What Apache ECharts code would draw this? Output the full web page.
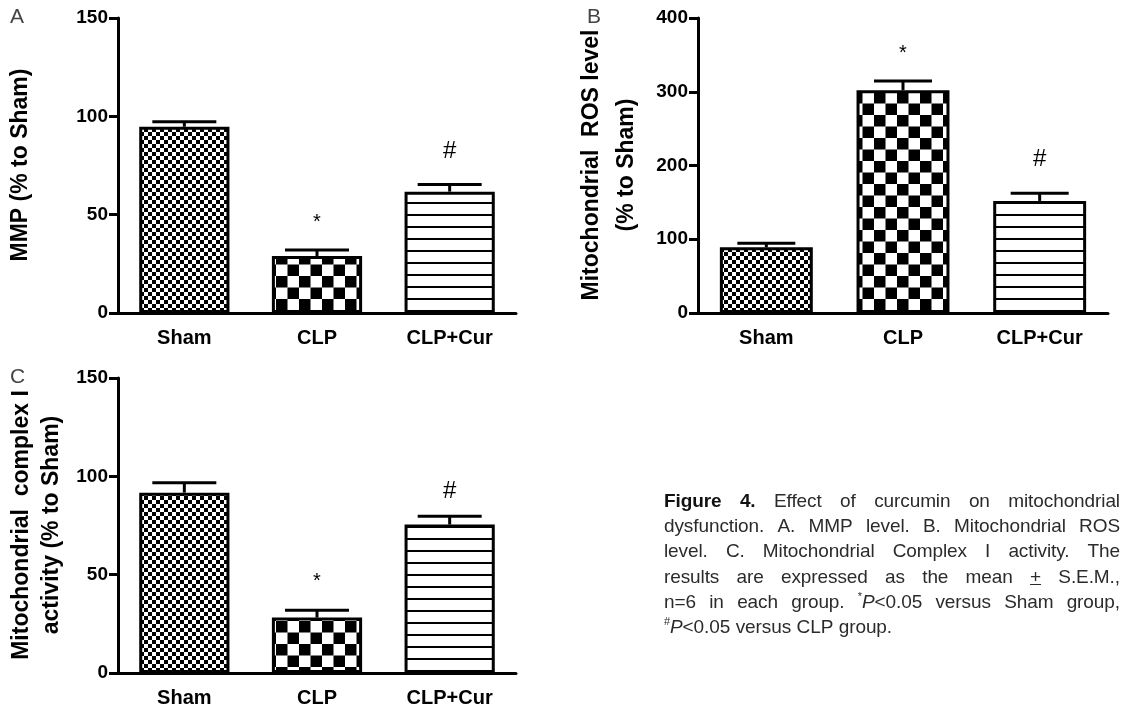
<!DOCTYPE html>
<html>
<head>
<meta charset="utf-8">
<script src="https://cdn.jsdelivr.net/npm/echarts@6/dist/echarts.min.js"></script>
<style>
html,body{margin:0;padding:0;background:#fff;}
#chart{position:absolute;left:0;top:0;width:1147px;height:710px;}
#caption{position:absolute;left:664px;top:488px;width:456px;font-family:'Liberation Sans',Arial,sans-serif;font-size:19px;letter-spacing:-0.1px;line-height:25.2px;color:#2b2b2b;}
#caption .l{display:flex;justify-content:space-between;white-space:nowrap;}
#caption .last{white-space:nowrap;}
#caption .last span{margin-right:5.5px;}
#caption b{color:#111;}
#caption sup{font-size:11px;line-height:0;vertical-align:8px;}
</style>
</head>
<body>
<div id="chart"></div>
<div id="caption"></div>
<script>
// ---- data ----
const categories = ['Sham', 'CLP', 'CLP+Cur'];
const marks = ['', '*', '#'];

const mmpMean = [94.7, 29.0, 61.7];
const mmpSem  = [2.6, 3.0, 3.7];

const rosMean = [89, 302, 152];
const rosSem  = [5.5, 12.6, 10.4];

const cx1Mean = [91.7, 28.2, 75.5];
const cx1Sem  = [5.1, 3.7, 4.2];

const ticksA = [0, 50, 100, 150];
const ticksB = [0, 100, 200, 300, 400];
const ticksC = [0, 50, 100, 150];

const captionLines = [
  '<b>Figure</b> <b>4.</b> Effect of curcumin on mitochondrial',
  'dysfunction. A. MMP level. B. Mitochondrial ROS',
  'level. C. Mitochondrial Complex I activity. The',
  'results are expressed as the mean <u>+</u> S.E.M.,',
  'n=6 in each group. <sup>*</sup><i>P</i>&lt;0.05 versus Sham group,',
  '<sup>#</sup><i>P</i>&lt;0.05 versus CLP group.'
];

// ---- caption (justified lines) ----
(function () {
  const cap = document.getElementById('caption');
  captionLines.forEach((ln, idx) => {
    const d = document.createElement('div');
    d.className = idx === captionLines.length - 1 ? 'last' : 'l';
    d.innerHTML = ln.split(' ').map(w => '<span>' + w + '</span>').join('');
    cap.appendChild(d);
  });
})();

// ---- patterns ----
function pattern(kind) {
  const c = document.createElement('canvas');
  const ctx = c.getContext('2d');
  if (kind === 'fine') {
    const s = 4; c.width = c.height = 2 * s;
    ctx.fillStyle = '#fff'; ctx.fillRect(0, 0, 2 * s, 2 * s);
    ctx.fillStyle = '#000'; ctx.fillRect(0, 0, s, s); ctx.fillRect(s, s, s, s);
  } else if (kind === 'coarse') {
    c.width = c.height = 23;
    ctx.fillStyle = '#fff'; ctx.fillRect(0, 0, 23, 23);
    ctx.fillStyle = '#000'; ctx.fillRect(0, 0, 11.5, 11.5); ctx.fillRect(11.5, 11.5, 11.5, 11.5);
  } else {
    c.width = 8; c.height = 12;
    ctx.fillStyle = '#fff'; ctx.fillRect(0, 0, 8, 12);
    ctx.fillStyle = '#000'; ctx.fillRect(0, 10, 8, 2);
  }
  return { image: c, repeat: 'repeat' };
}
const fills = [pattern('fine'), pattern('coarse'), pattern('lines')];

const FONT = "'Liberation Sans', Arial, sans-serif";
const grids = [
  { left: 118, top: 18, width: 398, height: 295 },
  { left: 698, top: 18, width: 410, height: 295 },
  { left: 118, top: 378, width: 398, height: 295 }
];
const panels = [
  { mean: mmpMean, sem: mmpSem, ticks: ticksA, cap: 32, starGap: 28, hashGap: 33 },
  { mean: rosMean, sem: rosSem, ticks: ticksB, cap: 29, starGap: 27, hashGap: 34 },
  { mean: cx1Mean, sem: cx1Sem, ticks: ticksC, cap: 32, starGap: 29, hashGap: 25 }
];

const axisLineStyle = { color: '#000', width: 3 };
const xAxes = grids.map((g, i) => ({
  gridIndex: i, type: 'category', data: categories,
  axisLine: { lineStyle: axisLineStyle },
  axisTick: { alignWithLabel: true, length: 9, lineStyle: axisLineStyle },
  axisLabel: { color: '#000', fontWeight: 'bold', fontSize: 20, fontFamily: FONT, margin: 15 }
}));
const yAxes = panels.map((p, i) => ({
  gridIndex: i, type: 'value', min: p.ticks[0], max: p.ticks[p.ticks.length - 1],
  interval: p.ticks[1] - p.ticks[0],
  axisLine: { show: true, lineStyle: axisLineStyle },
  axisTick: { show: true, length: 9, lineStyle: axisLineStyle },
  axisLabel: { color: '#000', fontWeight: 'bold', fontSize: 19, fontFamily: FONT, margin: 10 },
  splitLine: { show: false }
}));

const series = [];
panels.forEach((p, i) => {
  series.push({
    type: 'bar', xAxisIndex: i, yAxisIndex: i, barWidth: '68%',
    data: p.mean.map((v, k) => ({ value: v, itemStyle: { color: fills[k], borderColor: '#000', borderWidth: 3 } })),
    silent: true, animation: false, z: 2
  });
  series.push({
    type: 'custom', xAxisIndex: i, yAxisIndex: i, z: 5, animation: false, silent: true,
    data: p.mean.map((v, k) => [k, v, p.sem[k]]),
    renderItem: function (params, api) {
      const k = api.value(0), v = api.value(1), e = api.value(2);
      const b = api.coord([k, v]);
      const t = api.coord([k, v + e]);
      const half = p.cap;
      const children = [
        { type: 'line', shape: { x1: b[0], y1: b[1], x2: t[0], y2: t[1] }, style: { stroke: '#000', lineWidth: 3 } },
        { type: 'line', shape: { x1: t[0] - half, y1: t[1], x2: t[0] + half, y2: t[1] }, style: { stroke: '#000', lineWidth: 3 } }
      ];
      const m = marks[params.dataIndex];
      if (m) {
        const isStar = m === '*';
        children.push({
          type: 'text',
          style: {
            text: m, x: t[0], y: t[1] - (isStar ? p.starGap : p.hashGap),
            font: (isStar ? 'normal 20px ' : 'normal 24px ') + FONT,
            fill: '#000', align: 'center', verticalAlign: 'middle'
          }
        });
      }
      return { type: 'group', children };
    }
  });
});

function title(text, x, y, lh) {
  return {
    type: 'text', x: x, y: y, rotation: Math.PI / 2,
    style: {
      text: text, font: 'bold 23px ' + FONT, fill: '#000',
      align: 'center', verticalAlign: 'middle', lineHeight: lh || 26
    }
  };
}
function letter(t, x, y) {
  return { type: 'text', x: x, y: y, style: { text: t, font: 'normal 21px ' + FONT, fill: '#444' } };
}

const chart = echarts.init(document.getElementById('chart'), null, { renderer: 'canvas' });
chart.setOption({
  animation: false,
  backgroundColor: '#fff',
  grid: grids,
  xAxis: xAxes,
  yAxis: yAxes,
  series: series,
  graphic: [
    letter('A', 10, 7), letter('B', 587, 7), letter('C', 10, 367),
    title('MMP (% to Sham)', 21, 165),
    title('Mitochondrial  ROS level\n(% to Sham)', 609, 165, 35),
    title('Mitochondrial  complex I\nactivity (% to Sham)', 37, 525, 30)
  ]
});
</script>
</body>
</html>
